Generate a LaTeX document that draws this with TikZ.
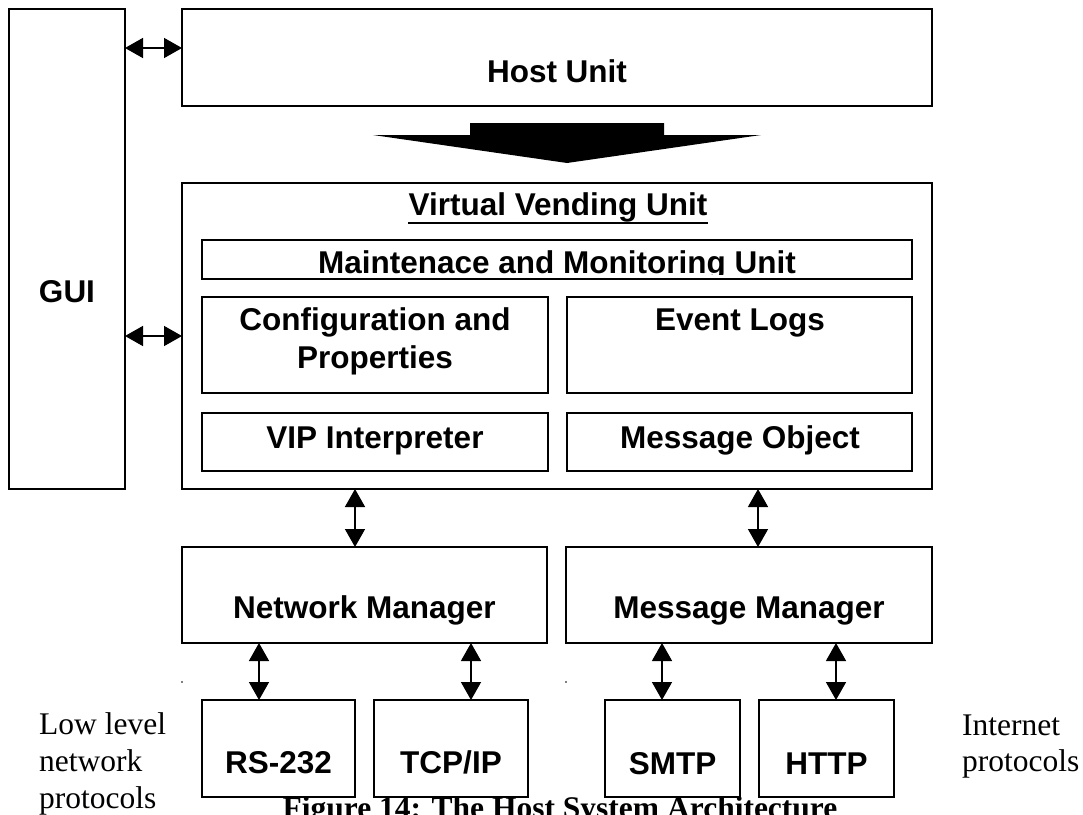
\documentclass[tikz,border=0pt]{standalone}
\usepackage{fontspec}
\setmainfont{Liberation Serif}
\newfontfamily\arialf{Liberation Sans}
\usetikzlibrary{arrows.meta}
\begin{document}
\begin{tikzpicture}[x=1pt,y=-1pt,
  box/.style={draw, line width=1.6pt, fill=white, inner sep=0pt, outer sep=0pt},
  lab/.style={inner sep=0pt, anchor=base, font=\arialf\bfseries\fontsize{31.5}{37}\selectfont},
  tnr/.style={inner sep=0pt, anchor=base west, font=\fontsize{31.5}{37}\selectfont},
  dbl/.style={line width=1.5pt, {Triangle[length=18pt,width=20pt]}-{Triangle[length=18pt,width=20pt]}}]
\useasboundingbox (0,0) rectangle (1083,814);
\fill[white] (0,0) rectangle (1083,814);

% caption (partly hidden under the protocol boxes)
\node[inner sep=0pt, anchor=base, font=\bfseries\fontsize{31.5}{37}\selectfont] (cap) at (560,818) {Figure 14: The Host System Architecture};

% boxes
\node[box, minimum width=116pt, minimum height=480pt] (gui) at (67,249) {};
\node[box, minimum width=750pt, minimum height=97pt] (host) at (557,57.5) {};
\node[box, minimum width=750pt, minimum height=306pt] (vvu) at (557,336) {};
\node[box, minimum width=710pt, minimum height=39pt] (maint) at (557,259.5) {};
\node[box, minimum width=346pt, minimum height=96pt] (cfg) at (375,345) {};
\node[box, minimum width=345pt, minimum height=96pt] (evt) at (739.5,345) {};
\node[box, minimum width=346pt, minimum height=58pt] (vip) at (375,442) {};
\node[box, minimum width=345pt, minimum height=58pt] (mob) at (739.5,442) {};
\node[box, minimum width=365pt, minimum height=96pt] (nm) at (364.5,595) {};
\node[box, minimum width=366pt, minimum height=96pt] (mm) at (749,595) {};
\node[box, minimum width=153pt, minimum height=97pt] (rs) at (278.5,748.5) {};
\node[box, minimum width=154pt, minimum height=97pt] (tcp) at (451,748.5) {};
\node[box, minimum width=135pt, minimum height=97pt] (smtp) at (672.5,748.5) {};
\node[box, minimum width=135pt, minimum height=97pt] (http) at (826.5,748.5) {};

% labels
\node[lab] (guit) at (67,302) {GUI};
\node[lab] (hostt) at (557,82) {Host Unit};
\node[lab] (vvut) at (558,215) {Virtual Vending Unit};
\draw[line width=2pt] ([yshift=-8pt]vvut.base west) -- ([yshift=-8pt]vvut.base east);
\coordinate (yc) at (0,274);
\begin{scope}
  \clip (maint.north west) rectangle (maint.east |- yc);
  \node[lab] (mtxt) at (557,273) {Maintenace and Monitoring Unit};
\end{scope}
\node[lab] (cfg1) at (375,330) {Configuration and};
\node[lab] (cfg2) at (375,368) {Properties};
\node[lab] (evtt) at (740,330) {Event Logs};
\node[lab] (vipt) at (375,448) {VIP Interpreter};
\node[lab] (mobt) at (740,448) {Message Object};
\node[lab] (nmt) at (364.5,618) {Network Manager};
\node[lab] (mmt) at (749,618) {Message Manager};
\node[lab] (rst) at (278.5,773) {RS-232};
\node[lab] (tcpt) at (451,773) {TCP/IP};
\node[lab] (smtpt) at (672.5,774) {SMTP};
\node[lab] (httpt) at (826.5,774) {HTTP};

% side texts
\node[tnr] (ll1) at (39,734) {Low level};
\node[tnr] (ll2) at (39,771) {network};
\node[tnr] (ll3) at (39,808) {protocols};
\node[tnr] (ip1) at (962,735) {Internet};
\node[tnr] (ip2) at (962,771) {protocols};

% big arrow host -> vvu
\fill (373,135) -- (470,135) -- (470,123) -- (664,123) -- (664,135) -- (761,135) -- (567,163) -- cycle;

% connectors
\coordinate (ya) at (0,48);
\coordinate (yb) at (0,336);
\draw[dbl] (gui.east |- ya) -- (host.west |- ya);
\draw[dbl] (gui.east |- yb) -- (vvu.west |- yb);
\coordinate (x1) at (355,0);
\coordinate (x2) at (758,0);
\coordinate (x3) at (259,0);
\coordinate (x4) at (471,0);
\coordinate (x5) at (662,0);
\coordinate (x6) at (836,0);
\draw[dbl] (vvu.south -| x1) -- (nm.north -| x1);
\draw[dbl] (vvu.south -| x2) -- (mm.north -| x2);
\draw[dbl] (nm.south -| x3) -- (rs.north -| x3);
\draw[dbl] (nm.south -| x4) -- (tcp.north -| x4);
\draw[dbl] (mm.south -| x5) -- (smtp.north -| x5);
\draw[dbl] (mm.south -| x6) -- (http.north -| x6);

% tiny marks
\fill (182,682) circle (0.8pt);
\fill (566,682) circle (0.8pt);
\end{tikzpicture}
\end{document}
